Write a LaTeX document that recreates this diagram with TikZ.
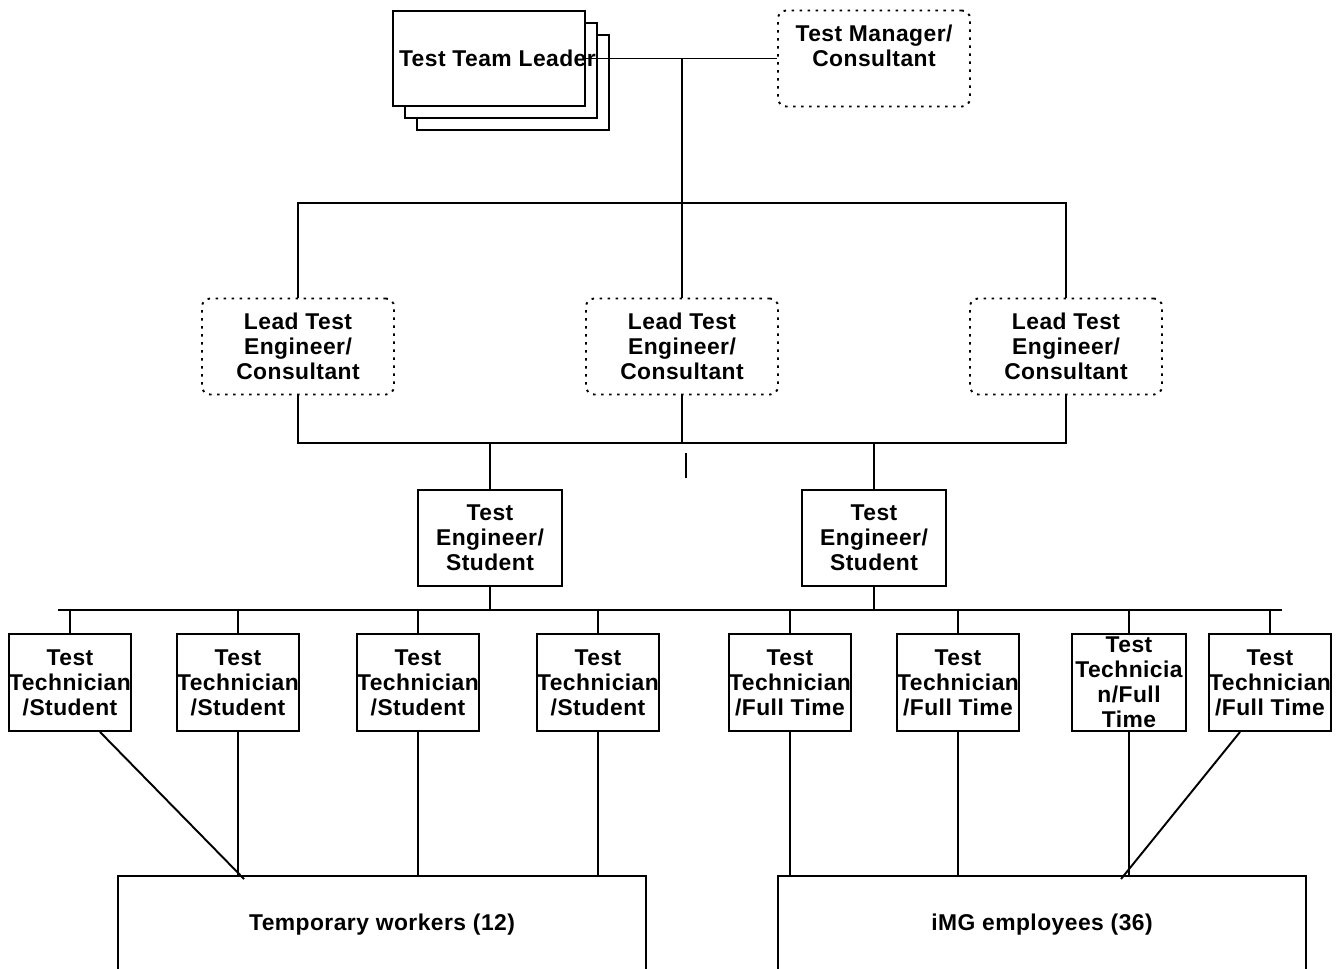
\documentclass[tikz,border=0pt]{standalone}
\usepackage{fontspec}
\setmainfont[LetterSpace=2]{Liberation Sans}

\begin{document}
\begin{tikzpicture}[x=0.02cm,y=-0.02cm,line width=1.1pt,
    every node/.style={font=\fontsize{13}{14.2}\selectfont\bfseries,align=center,inner sep=0pt},
    solidbox/.style={draw,fill=white,minimum height=1.94cm},
    dotbox/.style={draw,rounded corners=0.16cm,dash pattern=on 0.05cm off 0.11cm,
        minimum width=3.84cm,minimum height=1.92cm}]
                \useasboundingbox (0,0) rectangle (1342,968);
                \clip (0,0) rectangle (1342,968);
                % top row
                \draw[fill=white] (417,35) rectangle (609,130);
                \draw[fill=white] (405,23) rectangle (597,118);
                \node[solidbox,minimum width=3.84cm,minimum height=1.9cm] (leader) at (489,58.5) {\makebox[3.6cm][l]{Test Team Leader}};
                \node[dotbox] (mgr) at (874,58.5) {Test Manager/\\Consultant\\\mbox{}};
                % leads and engineers
                \foreach \n/\x in {1/298,2/682,3/1066}
                    \node[dotbox] (lead\n) at (\x,346.5) {Lead Test\\Engineer/\\Consultant};
                \foreach \n/\x in {1/490,2/874}
                    \node[solidbox,minimum width=2.88cm,minimum height=1.92cm] (eng\n) at (\x,538) {Test\\Engineer/\\Student};
                % technicians
                \foreach \n/\x/\w/\txt in {1/70/2.4/{Test\\Technician\\/Student},
                        2/238/2.4/{Test\\Technician\\/Student},
                        3/418/2.4/{Test\\Technician\\/Student},
                        4/598/2.4/{Test\\Technician\\/Student},
                        5/790/2.4/{Test\\Technician\\/Full Time},
                        6/958/2.4/{Test\\Technician\\/Full Time},
                        7/1129/2.28/{Test\\Technicia\\n/Full\\Time},
                        8/1270/2.4/{Test\\Technician\\/Full Time}}
                    \node[solidbox,minimum width=\w cm] (t\n) at (\x,682.5) {\txt};
                \node[solidbox,minimum width=10.56cm,minimum height=1.96cm,anchor=north] (temp) at (382,875) {Temporary workers (12)};
                \node[solidbox,minimum width=10.56cm,minimum height=1.96cm,anchor=north] (emp) at (1042,875) {iMG employees (36)};
                % lines
                \coordinate (top) at (682,203);
                \coordinate (mid) at (682,443);
                \coordinate (barL) at (58,610);
                \coordinate (barR) at (1282,610);
                \draw (leader.east) -- (mgr.west);
                \draw (top) -- (top |- leader.east);
                \draw (lead1.north) |- (top) -| (lead3.north);
                \draw (lead2.north) -- (top);
                \draw (lead1.south) |- (mid) -| (lead3.south);
                \draw (lead2.south) -- (mid);
                \foreach \n in {1,2} \draw (eng\n.north) -- (eng\n.north |- mid);
                \draw (686,453) -- (686,478);
                \draw (barL) -- (barR);
                \foreach \n in {1,2} \draw (eng\n.south) -- (eng\n.south |- barL);
                \foreach \n in {1,...,8} \draw (t\n.north) -- (t\n.north |- barL);
                \foreach \n in {2,3,4} \draw (t\n.south) -- (t\n.south |- temp.north);
                \foreach \n in {5,6,7} \draw (t\n.south) -- (t\n.south |- emp.north);
                \draw ([xshift=0.6cm]t1.south) -- ([xshift=2.54cm,yshift=-0.08cm]temp.north west);
                \draw ([xshift=-0.6cm]t8.south) -- ([xshift=6.88cm,yshift=-0.08cm]emp.north west);
            \end{tikzpicture}
\end{document}
